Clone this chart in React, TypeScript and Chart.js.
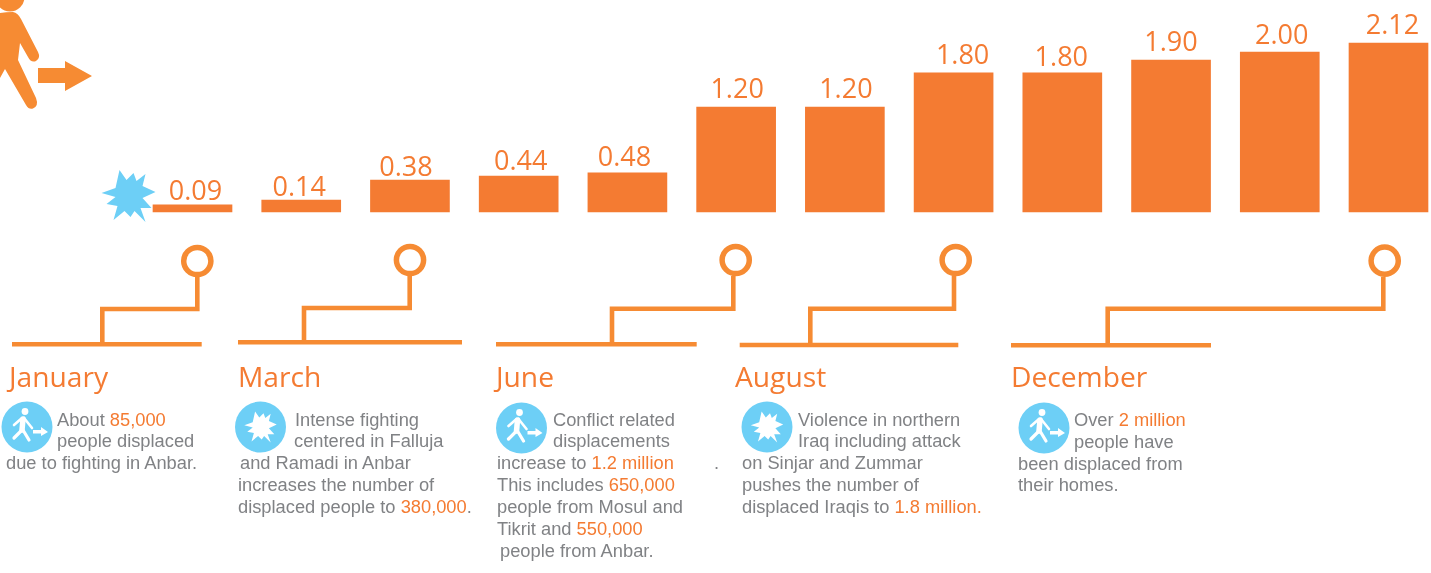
import React, { useEffect, useRef } from "react";
import { Chart, registerables } from "chart.js";

Chart.register(...registerables);

const months = ["Jan","Feb","Mar","Apr","May","Jun","Jul","Aug","Sep","Oct","Nov","Dec"];
// The figures printed above the bars (millions displaced).
const printedValues = [0.09,0.14,0.38,0.44,0.48,1.2,1.2,1.8,1.8,1.9,2.0,2.12];
// Bar heights as actually drawn in the picture, which are not strictly proportional to the printed figures.
const drawnHeights = [0.09,0.15,0.4,0.45,0.49,1.31,1.31,1.74,1.74,1.9,2.0,2.11];
const labelNudgeX = [3,-2,-4,2,-3,1,1,9,-1,0,2,4];
const labelNudgeY = [0,0,0,-1.5,-2,0,0,0,2,0,1,0];

const ORANGE = "#F47B32";
const LINE = "#F68B33";
const BLUE = "#6DCFF6";
const GREY = "#808285";

type Seg = string | { o: string };
type Note = { title: string; tx: number; ty: number; icon: "walk" | "burst"; ix: number; iy: number; lines: { x: number; y: number; s: Seg[] }[] };

const notes: Note[] = [
  { title: "January", tx: 9, ty: 387, icon: "walk", ix: 27, iy: 427, lines: [
    { x: 57, y: 426, s: ["About ", { o: "85,000" }] },
    { x: 57, y: 447, s: ["people displaced"] },
    { x: 6, y: 469, s: ["due to fighting in Anbar."] },
  ]},
  { title: "March", tx: 238, ty: 387, icon: "burst", ix: 260.5, iy: 427, lines: [
    { x: 295, y: 426, s: ["Intense fighting"] },
    { x: 294, y: 447, s: ["centered in Falluja"] },
    { x: 240, y: 469, s: ["and Ramadi in Anbar"] },
    { x: 238, y: 491, s: ["increases the number of"] },
    { x: 238, y: 513, s: ["displaced people to ", { o: "380,000" }, "."] },
  ]},
  { title: "June", tx: 496, ty: 387, icon: "walk", ix: 521.5, iy: 428, lines: [
    { x: 553, y: 426, s: ["Conflict related"] },
    { x: 553, y: 447, s: ["displacements"] },
    { x: 497, y: 469, s: ["increase to ", { o: "1.2 million" }] },
    { x: 497, y: 491, s: ["This includes ", { o: "650,000" }] },
    { x: 497, y: 513, s: ["people from Mosul and"] },
    { x: 497, y: 535, s: ["Tikrit and ", { o: "550,000" }] },
    { x: 500, y: 557, s: ["people from Anbar."] },
    { x: 714, y: 469, s: ["."] },
  ]},
  { title: "August", tx: 735, ty: 387, icon: "burst", ix: 767, iy: 427, lines: [
    { x: 798, y: 426, s: ["Violence in northern"] },
    { x: 798, y: 447, s: ["Iraq including attack"] },
    { x: 742, y: 469, s: ["on Sinjar and Zummar"] },
    { x: 742, y: 491, s: ["pushes the number of"] },
    { x: 742, y: 513, s: ["displaced Iraqis to ", { o: "1.8 million." }] },
  ]},
  { title: "December", tx: 1011, ty: 387, icon: "walk", ix: 1044, iy: 428, lines: [
    { x: 1074, y: 426, s: ["Over ", { o: "2 million" }] },
    { x: 1074, y: 448, s: ["people have"] },
    { x: 1018, y: 470, s: ["been displaced from"] },
    { x: 1018, y: 491, s: ["their homes."] },
  ]},
];

const connectors = [
  { cx: 197.3, cy: 261, path: "M197.3 277 V309 H102.3 V344", base: "M12 344.3 H201.7" },
  { cx: 410, cy: 260, path: "M409.7 276 V308 H304 V342", base: "M238 342.3 H462" },
  { cx: 735.7, cy: 260, path: "M733.3 276 V308.7 H612 V344", base: "M496 344.3 H696.7" },
  { cx: 955.7, cy: 260, path: "M954 276 V308.7 H810.3 V345", base: "M739.7 345 H958.3" },
  { cx: 1384.7, cy: 260.7, path: "M1383.3 277 V308.7 H1107.7 V345", base: "M1011 345.3 H1211" },
];

const BURST = "M-9 -26 L-2 -16 L5 -23 L8 -15 L17 -22 L14 -10 L27 -4 L14 2 L23 12 L12 12 L17 26 L6 15 L2 21 L-4 15 L-15 24 L-11 10 L-22 8 L-13 1 L-27 -3 L-13 -8 Z";
const BIG_WALKER = "M0 13 Q6 12 13 12 Q18 13 21 19 L38 52 Q41 58 36 61 Q31 63 28 57 L20 43 L18 60 L36 98 Q39 106 33 108.5 Q29 110 26 105 L5 69 L0 78 Z";

function WalkIcon({ x, y }: { x: number; y: number }) {
  return (
    <g transform={`translate(${x} ${y})`}>
      <circle r={25.5} fill={BLUE} />
      <g stroke="#fff" strokeLinecap="round" strokeLinejoin="round" fill="none">
        <circle cx={-2} cy={-15.5} r={3.4} fill="#fff" stroke="none" />
        <path d="M-5 -9 L-13 -2 M-3 -9 L5 1" strokeWidth={2.6} />
        <path d="M-4 -8 L-5 3" strokeWidth={5.5} />
        <path d="M-5 3 L-13 11 M-4 3 L2 13" strokeWidth={3.2} />
      </g>
      <path d="M6 3 H14 V0 L21 5 L14 9 V6.5 H6 Z" fill="#fff" />
    </g>
  );
}

function BurstIcon({ x, y }: { x: number; y: number }) {
  return (
    <g transform={`translate(${x} ${y})`}>
      <circle r={25.5} fill={BLUE} />
      <path d={BURST} fill="#fff" transform="scale(0.6)" />
    </g>
  );
}

const valueLabels = {
  id: "valueLabels",
  afterDatasetsDraw(chart: Chart) {
    const { ctx } = chart;
    const meta = chart.getDatasetMeta(0);
    ctx.save();
    ctx.font = '27px "Open Sans"';
    ctx.fillStyle = ORANGE;
    ctx.textAlign = "center";
    ctx.textBaseline = "alphabetic";
    meta.data.forEach((bar: any, i: number) => {
      const gap = i < 5 ? 4.5 : 9;
      ctx.fillText(printedValues[i].toFixed(2), bar.x + labelNudgeX[i], bar.y - gap + labelNudgeY[i]);
    });
    ctx.restore();
  },
};

export default function App() {
  const ref = useRef<HTMLCanvasElement>(null);
  useEffect(() => {
    document.body.style.margin = "0";
    const chart = new Chart(ref.current!, {
      type: "bar",
      data: {
        labels: months,
        datasets: [{ data: drawnHeights, backgroundColor: ORANGE, barThickness: 79, clip: false as any }],
      },
      options: {
        animation: false,
        responsive: false,
        layout: { padding: { left: 192.5, right: 42.5, top: 0, bottom: 361 } },
        plugins: { legend: { display: false }, tooltip: { enabled: false } },
        scales: {
          x: { display: false, offset: false },
          y: { display: false, min: 0, max: 2.65 },
        },
      },
      plugins: [valueLabels],
    });
    return () => chart.destroy();
  }, []);

  return (
    <div style={{ position: "relative", width: 1431, height: 573, overflow: "hidden", background: "#fff" }}>
      <canvas ref={ref} width={1431} height={573} style={{ position: "absolute", left: 0, top: 0 }} />
      <svg width={1431} height={573} style={{ position: "absolute", left: 0, top: 0 }}>
        {/* Walking figure and arrow, top left */}
        <circle cx={10} cy={-3} r={14.5} fill={LINE} />
        <path d={BIG_WALKER} fill={LINE} />
        <path d="M38 68 H65 V61 L92 76 L65 91 V83 H38 Z" fill={LINE} />
        <path d={BURST} fill={BLUE} transform="translate(128.5 196)" />
        {connectors.map((c, i) => (
          <g key={i} fill="none" stroke={LINE} strokeWidth={4.6}>
            <path d={c.path} />
            <path d={c.base} />
            <circle cx={c.cx} cy={c.cy} r={13.6} strokeWidth={5.5} fill="#fff" />
          </g>
        ))}
        {notes.map((n, i) =>
          n.icon === "walk" ? <WalkIcon key={i} x={n.ix} y={n.iy} /> : <BurstIcon key={i} x={n.ix} y={n.iy} />
        )}
        {notes.map((n) => (
          <g key={n.title}>
            <text x={n.tx} y={n.ty} fontFamily="Open Sans" fontSize={28.2} fill={ORANGE}>{n.title}</text>
            {n.lines.map((l, j) => (
              <text key={j} x={l.x} y={l.y} fontFamily="Liberation Sans" fontSize={18.3} fill={GREY}>
                {l.s.map((p, k) =>
                  typeof p === "string"
                    ? <tspan key={k} xmlSpace="preserve">{p}</tspan>
                    : <tspan key={k} fill={ORANGE}>{p.o}</tspan>
                )}
              </text>
            ))}
          </g>
        ))}
      </svg>
    </div>
  );
}
